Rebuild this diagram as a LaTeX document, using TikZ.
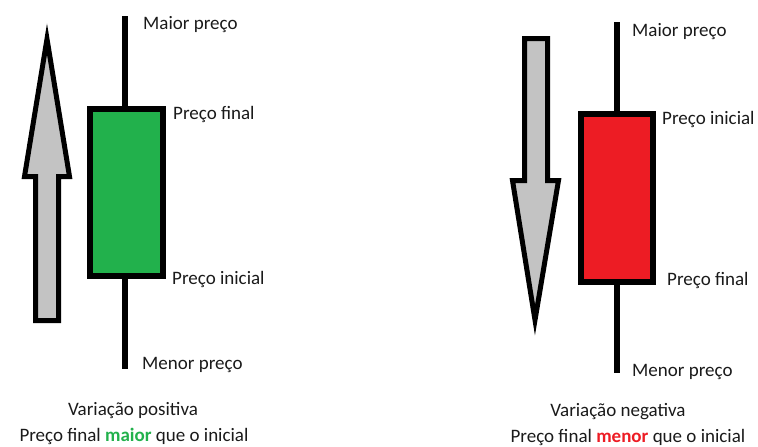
\documentclass[tikz,border=0pt]{standalone}
\usepackage{fontspec}
\setmainfont{Carlito}
\definecolor{bodygreen}{HTML}{22B14C}
\definecolor{bodyred}{HTML}{ED1C24}
\definecolor{arrowgray}{HTML}{C3C3C3}
\definecolor{txt}{HTML}{1A1A1A}
\begin{document}
\begin{tikzpicture}[x=1pt,y=-1pt,
  lbl/.style={anchor=west,inner sep=0pt,yshift=-2pt,font=\fontsize{19}{22}\selectfont,text=txt},
  captext/.style={anchor=center,inner sep=0pt,font=\fontsize{19}{22}\selectfont,text=txt},
  wick/.style={line width=6pt},
  candle/.style={draw=black,line width=6pt},
  bigarrow/.style={draw=black,fill=arrowgray,line width=5pt,line join=miter}]
\path[use as bounding box] (0,0) rectangle (758,447);
% ---------- left: positive ----------
\coordinate (lwt) at (125,16);
\coordinate (lwb) at (125,369);
\draw[wick] (lwt) -- (lwb);
\node[candle,fill=bodygreen,minimum width=73pt,minimum height=167pt,inner sep=0pt] (gbody) at (126.5,192.5) {};
\draw[bigarrow] (47,39) -- (69.5,176.5) -- (58.5,176.5) -- (58.5,320.5) -- (35.5,320.5) -- (35.5,176.5) -- (24.5,176.5) -- cycle;
\node[lbl] (lmax) at (143,23) {Maior preço};
\node[lbl] (lfin) at (173,112) {Preço final};
\node[lbl] (lini) at (172,277) {Preço inicial};
\node[lbl] (lmin) at (142,363) {Menor preço};
\node[captext] (lvar) at (133,411) {Variação positiva};
\node[captext] (ldesc) at (134,436) {Preço final \textcolor{bodygreen}{\textbf{maior}} que o inicial};
% ---------- right: negative ----------
\coordinate (rwt) at (617,22);
\coordinate (rwb) at (617,373);
\draw[wick] (rwt) -- (rwb);
\node[candle,fill=bodyred,minimum width=72pt,minimum height=168pt,inner sep=0pt] (rbody) at (617,198) {};
\draw[bigarrow] (524.5,38.5) -- (547.5,38.5) -- (547.5,180.5) -- (558.5,180.5) -- (535,320) -- (512.5,180.5) -- (524.5,180.5) -- cycle;
\node[lbl] (rmax) at (632,30) {Maior preço};
\node[lbl] (rini) at (662,117) {Preço inicial};
\node[lbl] (rfin) at (667,278) {Preço final};
\node[lbl] (rmin) at (632,370) {Menor preço};
\node[captext] (rvar) at (618,412) {Variação negativa};
\node[captext] (rdesc) at (628,437) {Preço final \textcolor{bodyred}{\textbf{menor}} que o inicial};
\end{tikzpicture}
\end{document}
